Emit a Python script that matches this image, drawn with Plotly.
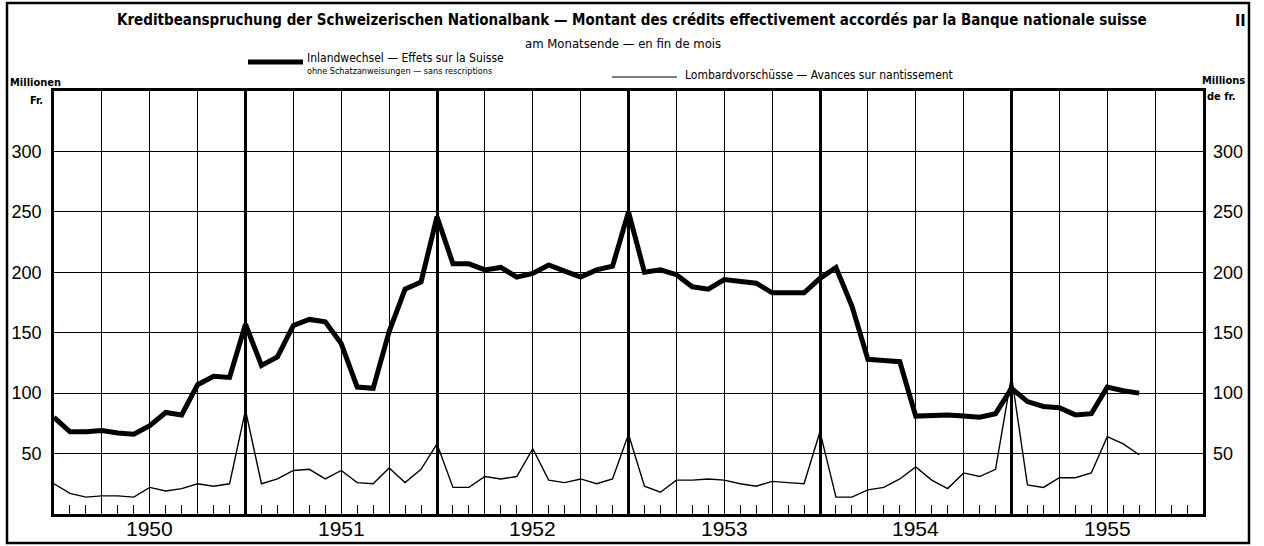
import plotly.graph_objects as go

# Month-end values, December 1949 .. August 1955 (millions of francs)
months = ["1949-12"] + [f"{y}-{m:02d}" for y in range(1950, 1956) for m in range(1, 13)]
inland = [80, 68, 68, 69, 67, 66, 73, 84, 82, 107, 114, 113,
          157, 123, 130, 156, 161, 159, 141, 105, 104, 151, 186, 192,
          246, 207, 207, 202, 204, 196, 199, 206, 201, 196, 202, 205,
          250, 200, 202, 198, 188, 186, 194, 192, 191, 183, 183, 183,
          195, 204, 172, 128, 127, 126, 81, 82, 82, 81, 80, 83,
          104, 93, 89, 88, 82, 83, 105, 102, 100]
lombard = [25, 17, 14, 15, 15, 14, 22, 19, 21, 25, 23, 25,
           86, 25, 29, 36, 37, 29, 36, 26, 25, 38, 26, 37,
           58, 22, 22, 31, 29, 31, 54, 28, 26, 29, 25, 29,
           66, 23, 18, 28, 28, 29, 28, 25, 23, 27, 26, 25,
           68, 14, 14, 20, 22, 29, 39, 28, 21, 34, 31, 37,
           114, 24, 22, 30, 30, 34, 64, 58, 49]
years = [1950, 1951, 1952, 1953, 1954, 1955]
y_ticks = [50, 100, 150, 200, 250, 300]

def pos(label):
    y, m = label.split("-")
    return int(y) + int(m) / 12.0

x_inland = [pos(m) for m in months[:len(inland)]]
x_lombard = [pos(m) for m in months[:len(lombard)]]

NUM_FONT = "Liberation Sans, Arial, sans-serif"
COND = "Liberation Sans Narrow, DejaVu Sans Condensed, Roboto Condensed, Arial Narrow, Liberation Sans, sans-serif"

fig = go.Figure()
fig.add_trace(go.Scatter(x=x_inland, y=inland, mode="lines",
                         line=dict(color="black", width=5), showlegend=False, hoverinfo="skip"))
fig.add_trace(go.Scatter(x=x_lombard, y=lombard, mode="lines",
                         line=dict(color="black", width=1.4), showlegend=False, hoverinfo="skip"))
fig.add_trace(go.Scatter(x=[1950], y=[0], yaxis="y2", mode="markers",
                         marker=dict(opacity=0), showlegend=False, hoverinfo="skip"))
fig.add_trace(go.Scatter(x=[1950], y=[0], xaxis="x2", mode="markers",
                         marker=dict(opacity=0), showlegend=False, hoverinfo="skip"))
fig.add_trace(go.Scatter(x=[1950], y=[0], xaxis="x3", mode="markers",
                         marker=dict(opacity=0), showlegend=False, hoverinfo="skip"))

xr = [1950, 1956]
fig.update_layout(
    template="none",
    width=1264, height=546,
    margin=dict(l=54, r=61, t=91, b=32, pad=0),
    paper_bgcolor="white", plot_bgcolor="white",
    font=dict(family=NUM_FONT, color="black"),
    xaxis=dict(range=xr, showticklabels=False, ticks="", showgrid=False, automargin=False,
               showline=True, linecolor="black", linewidth=2.5, mirror=True,
               minor=dict(tickmode="linear", tick0=1950, dtick=1/12, ticks="inside",
                          ticklen=9, tickcolor="black", tickwidth=1.2, showgrid=False),
               zeroline=False),
    xaxis2=dict(range=xr, overlaying="x", anchor="y", tickmode="linear", tick0=1950, dtick=0.25,
                showgrid=True, gridcolor="black", gridwidth=1, showticklabels=False, ticks="",
                zeroline=False, automargin=False, showline=False),
    xaxis3=dict(range=xr, overlaying="x", anchor="y", tickmode="linear", tick0=1950, dtick=1,
                showgrid=True, gridcolor="black", gridwidth=2.5, showticklabels=False, ticks="",
                zeroline=False, automargin=False, showline=False),
    yaxis=dict(range=[0, 350], tickmode="array", tickvals=y_ticks, showgrid=True,
               gridcolor="black", gridwidth=1, ticks="", tickfont=dict(size=18),
               ticklabelstandoff=6, zeroline=False, automargin=False,
               showline=True, linecolor="black", linewidth=2.5, mirror=True),
    yaxis2=dict(range=[0, 350], overlaying="y", side="right", tickmode="array", tickvals=y_ticks,
                showgrid=False, ticks="", tickfont=dict(size=18), ticklabelstandoff=9,
                zeroline=False, automargin=False, showline=False),
)

def px(x):
    return (x - 54) / (1203 - 54)

def py(y):
    return (514 - y) / (514 - 91)

shapes = [
    dict(type="rect", xref="paper", yref="paper", x0=px(7), x1=px(1249), y0=py(543), y1=py(3),
         line=dict(color="black", width=2.5), layer="below"),
    dict(type="line", xref="paper", yref="paper", x0=px(248), x1=px(303), y0=py(62), y1=py(62),
         line=dict(color="black", width=5)),
    dict(type="line", xref="paper", yref="paper", x0=px(612), x1=px(677), y0=py(77), y1=py(77),
         line=dict(color="black", width=1.2)),
]
fig.update_layout(shapes=shapes)

# year labels centred in each year band on the x axis
for yr in years:
    fig.add_annotation(text=str(yr), x=yr + 0.5, xref="x", y=py(528), yref="paper",
                       showarrow=False, xanchor="center", yanchor="middle",
                       font=dict(size=21, family=NUM_FONT, color="black"))

def ann(text, x, y, size, xanchor="center", bold=False, family=COND):
    t = f"<b>{text}</b>" if bold else text
    fig.add_annotation(text=t, x=px(x), y=py(y), xref="paper", yref="paper", showarrow=False,
                       xanchor=xanchor, yanchor="middle", font=dict(size=size, family=family, color="black"))

ann("Kreditbeanspruchung der Schweizerischen Nationalbank — Montant des crédits effectivement accordés par la Banque nationale suisse",
    632, 20, 15, bold=True)
ann("II", 1240, 20, 16, bold=True)
ann("am Monatsende — en fin de mois", 623, 44, 13)
ann("Inlandwechsel — Effets sur la Suisse", 305, 58, 12, xanchor="left")
ann("ohne Schatzanweisungen — sans rescriptions", 305, 71, 9, xanchor="left")
ann("Lombardvorschüsse — Avances sur nantissement", 683, 75, 12, xanchor="left")
ann("Millionen", 8, 83, 11, xanchor="left", bold=True)
ann("Fr.", 36, 100, 11, xanchor="center", bold=True)
ann("Millions", 1247, 81, 11, xanchor="right", bold=True)
ann("de fr.", 1205, 96, 11, xanchor="left", bold=True)

fig.write_html("out.html", config={"displayModeBar": False},
               post_script="document.body.style.margin='0';document.body.style.overflow='hidden';")
